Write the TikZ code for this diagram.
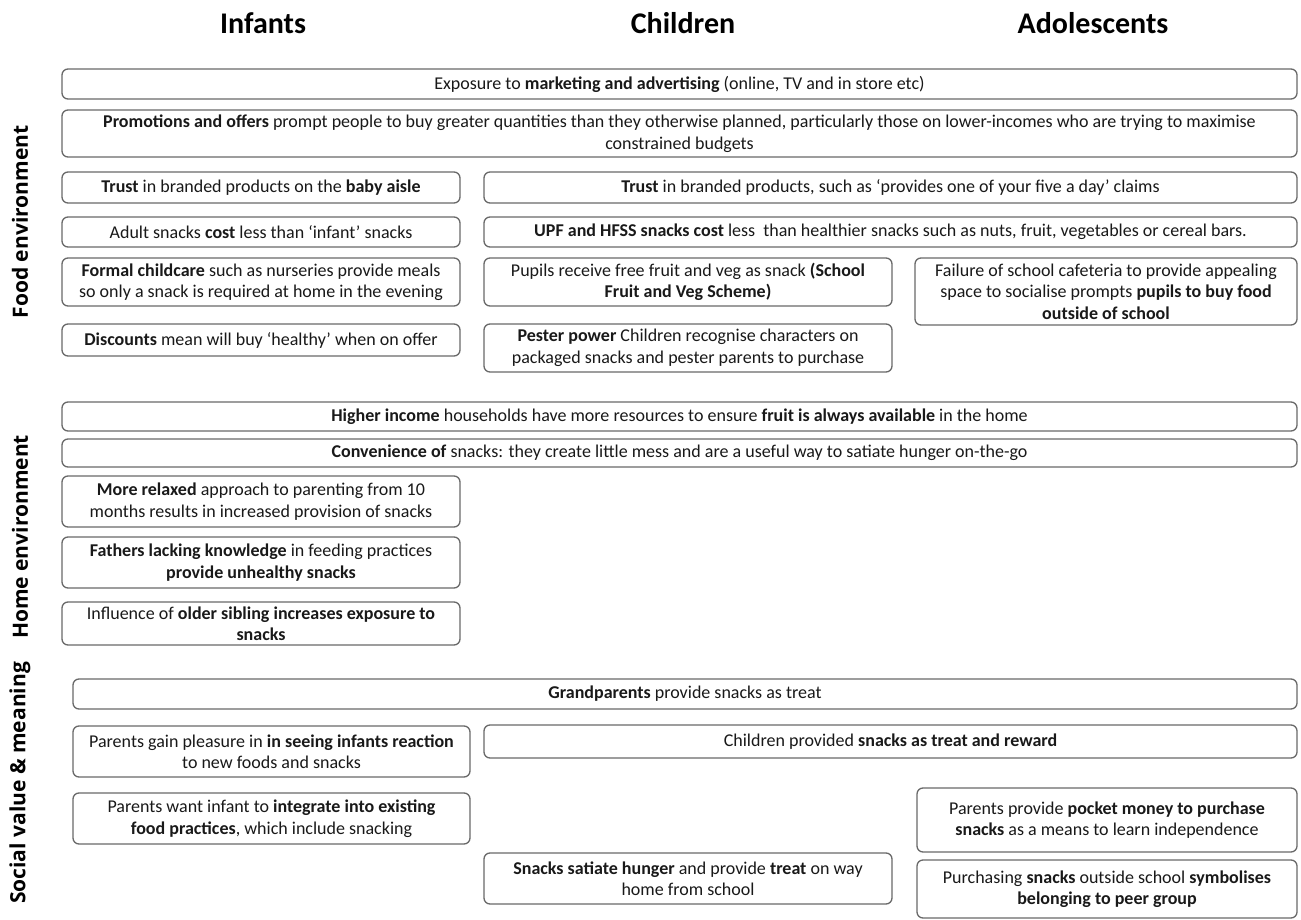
\documentclass[tikz,border=0pt]{standalone}
\usepackage{fontspec}
\setmainfont{Carlito}
\newfontfamily\labfont{Open Sans}
\definecolor{bordergray}{RGB}{105,105,105}
\definecolor{txt}{RGB}{25,25,25}
\tikzset{
  bx/.style={draw=bordergray, line width=1.3pt, rounded corners=6pt, inner sep=0pt,
    align=center, text=txt, font=\fontsize{18}{21.5}\selectfont},
  colhead/.style={font=\fontsize{30}{34}\selectfont\bfseries, text=black},
  rowhead/.style={font=\labfont\fontsize{21}{25}\selectfont\bfseries, rotate=90, text=black},
}
% box from corner (x1,y1) to (x2,y2)
\newcommand\bxnode[6]{\node[bx, minimum width={#4-#2}, minimum height={#5-#3}] (#1) at ({(#2+#4)/2},{(#3+#5)/2}) {#6};}
\begin{document}
\begin{tikzpicture}[x=1pt,y=-1pt]
\useasboundingbox[fill=white] (0,0) rectangle (1301,920);

% column headers
\node[colhead] (hInf) at (263,23) {Infants};
\node[colhead] (hChi) at (683,23) {Children};
\node[colhead] (hAdo) at (1093,23) {Adolescents};

% row headers
\node[rowhead] (rFood) at (20,222) {Food environment};
\node[rowhead] (rHome) at (20,537) {Home environment};
\node[rowhead] (rSoc) at (20,783) {Social value \& meaning};

% Food environment
\bxnode{expo}{62}{69}{1297}{99}{Exposure to \textbf{marketing and advertising} (online, TV and in store etc)}
\bxnode{promo}{62}{110}{1297}{157}{\textbf{Promotions and offers} prompt people to buy greater quantities than they otherwise planned, particularly those on lower-incomes who are trying to maximise\\constrained budgets}
\bxnode{trustA}{62}{172}{460}{203}{\textbf{Trust} in branded products on the \textbf{baby aisle}}
\bxnode{trustB}{484}{172}{1297}{203}{\textbf{Trust} in branded products, such as ‘provides one of your five a day’ claims}
\bxnode{adult}{62}{217}{460}{247}{Adult snacks \textbf{cost} less than ‘infant’ snacks}
\bxnode{upf}{484}{217}{1297}{247}{\textbf{UPF and HFSS snacks cost} less \ than healthier snacks such as nuts, fruit, vegetables or cereal bars.}
\bxnode{formal}{62}{258}{460}{306}{\textbf{Formal childcare} such as nurseries provide meals\\so only a snack is required at home in the evening}
\bxnode{pupils}{484}{258}{892}{306}{Pupils receive free fruit and veg as snack \textbf{(School}\\\textbf{Fruit and Veg Scheme)}}
\bxnode{failure}{915}{258}{1297}{325}{Failure of school cafeteria to provide appealing\\space to socialise prompts \textbf{pupils to buy food}\\\textbf{outside of school}}
\bxnode{disc}{62}{324}{460}{356}{\textbf{Discounts} mean will buy ‘healthy’ when on offer}
\bxnode{pester}{484}{324}{892}{372}{\textbf{Pester power} Children recognise characters on\\packaged snacks and pester parents to purchase}

% Home environment
\bxnode{higher}{62}{402}{1297}{431}{\textbf{Higher income} households have more resources to ensure \textbf{fruit is always available} in the home}
\bxnode{conv}{62}{439}{1297}{467}{\textbf{Convenience of} snacks: they create little mess and are a useful way to satiate hunger on-the-go}
\bxnode{relax}{62}{476}{460}{527}{\textbf{More relaxed} approach to parenting from 10\\months results in increased provision of snacks}
\bxnode{fath}{62}{537}{460}{588}{\textbf{Fathers lacking knowledge} in feeding practices\\\textbf{provide unhealthy snacks}}
\bxnode{sib}{62}{602}{460}{645}{Influence of \textbf{older sibling increases exposure to}\\\textbf{snacks}}

% Social value & meaning
\bxnode{grand}{73}{679}{1297}{709}{\textbf{Grandparents} provide snacks as treat}
\bxnode{pleas}{73}{726}{470}{777}{Parents gain pleasure in \textbf{in seeing infants reaction}\\to new foods and snacks}
\bxnode{treat}{484}{725}{1297}{758}{Children provided \textbf{snacks as treat and reward}}
\bxnode{integ}{73}{793}{470}{844}{Parents want infant to \textbf{integrate into existing}\\\textbf{food practices}, which include snacking}
\bxnode{pocket}{917}{788}{1297}{852}{Parents provide \textbf{pocket money to purchase}\\\textbf{snacks} as a means to learn independence}
\bxnode{sat}{484}{853}{892}{904}{\textbf{Snacks satiate hunger} and provide \textbf{treat} on way\\home from school}
\bxnode{peer}{917}{860}{1297}{918}{Purchasing \textbf{snacks} outside school \textbf{symbolises}\\\textbf{belonging to peer group}}
\end{tikzpicture}
\end{document}
